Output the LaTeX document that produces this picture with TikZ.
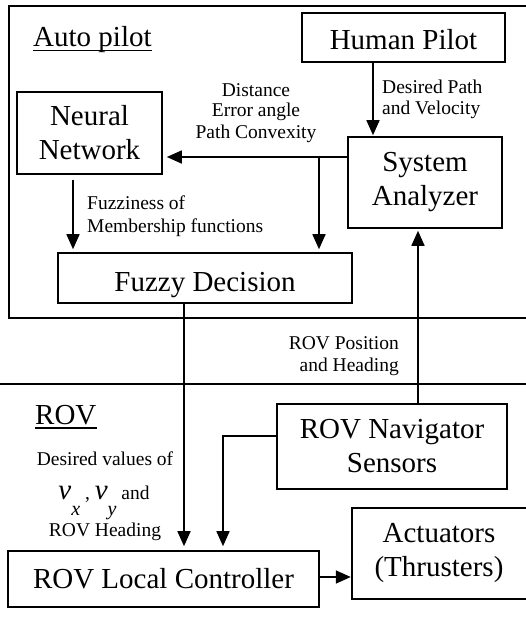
\documentclass[tikz,border=0pt]{standalone}
\usepackage{fontspec}
\setmainfont{Liberation Serif}
\usetikzlibrary{arrows.meta}
\newcommand\bigfnt{\fontsize{29}{34}\selectfont}
\newcommand\lblfnt{\fontsize{19.5}{21}\selectfont}
\newcommand\velsub[1]{{\fontsize{29}{29}\selectfont\itshape v}\raisebox{-16pt}{\fontsize{20}{20}\selectfont\itshape #1}}
\tikzset{
  box/.style={draw, line width=1.6pt, inner sep=0pt, font=\bigfnt, align=center},
  plain/.style={inner sep=0pt, font=\bigfnt, align=center},
  lbl/.style={inner sep=0pt, font=\lblfnt},
  arr/.style={line width=1.6pt, -{Triangle[length=15pt,width=13pt]}, shorten >=3pt},
  frame/.style={line width=1.6pt},
}
\begin{document}
\begin{tikzpicture}[x=1pt,y=-1pt]
\useasboundingbox (0,0) rectangle (526,623);
% frames
\draw[frame] (526,6) -- (9,6) -- (9,318) -- (526,318);
\draw[frame] (0,384) -- (526,384);
% titles
\node[plain, anchor=base west] (ap) at (33,47) {Auto pilot};
\draw[line width=1.5pt] ([yshift=-3.5pt]ap.base west) -- ([yshift=-3.5pt]ap.base east);
\node[plain, anchor=base west] (rov) at (35,424) {ROV};
\draw[line width=1.5pt] ([yshift=-4pt]rov.base west) -- ([yshift=-4pt]rov.base east);
% boxes
\node[box, minimum width=203pt, minimum height=49pt, text height=23.6pt, text depth=0pt] (hp) at (403.5,37.5) {Human Pilot};
\node[box, minimum width=145pt, minimum height=82pt] (nn) at (89.5,133) {Neural\\Network};
\node[box, minimum width=154pt, minimum height=91pt] (sa) at (425,182.5) {System\\Analyzer};
\node[box, minimum width=294pt, minimum height=50pt, text height=26pt, text depth=0pt] (fd) at (205,278) {Fuzzy Decision};
\node[box, minimum width=230pt, minimum height=85pt] (rn) at (392,446.5) {ROV Navigator\\Sensors};
\node[box, minimum width=311pt, minimum height=56pt, text height=18pt, text depth=0pt] (rlc) at (163.5,579) {ROV Local Controller};
\node[plain, minimum width=174pt, minimum height=91pt] (act) at (439,553.5) {Actuators\\(Thrusters)};
\draw[frame] (act.north east) -- (act.north west) -- (act.south west) -- (act.south east);
% connector helper coordinates
\coordinate (c1) at (373,0);
\coordinate (c2) at (0,157);
\coordinate (c3) at (319,157);
\coordinate (c4) at (73,0);
\coordinate (c5) at (184,0);
\coordinate (c6) at (223,436);
\coordinate (c7) at (418,0);
\coordinate (c8) at (0,577);
% connectors
\draw[arr, shorten >=1pt] (hp.south -| c1) -- (sa.north -| c1);
\draw[arr, shorten >=4pt] (sa.west |- c2) -- (nn.east |- c2);
\draw[arr] (c3) -- (c3 |- fd.north);
\draw[arr, shorten <=5pt] (nn.south -| c4) -- (fd.north -| c4);
\draw[arr, shorten >=4pt] (fd.south -| c5) -- (rlc.north -| c5);
\draw[arr, shorten >=4pt] (rn.west |- c6) -| (rlc.north -| c6);
\draw[arr, shorten >=2pt] (rn.north -| c7) -- (sa.south -| c7);
\draw[arr, shorten >=1pt] (rlc.east |- c8) -- (act.west |- c8);
% labels
\node[lbl, anchor=base west] (l1a) at (382,94) {Desired Path};
\node[lbl, anchor=base west] (l1b) at (382,114) {and Velocity};
\node[lbl, anchor=base] (l2a) at (256,96) {Distance};
\node[lbl, anchor=base] (l2b) at (256,117) {Error angle};
\node[lbl, anchor=base] (l2c) at (256,138) {Path Convexity};
\node[lbl, anchor=base west] (l3a) at (87,209) {Fuzziness of};
\node[lbl, anchor=base west] (l3b) at (87,232) {Membership functions};
\node[lbl, anchor=base east] (l4a) at (399,349) {ROV Position};
\node[lbl, anchor=base east] (l4b) at (399,371) {and Heading};
\node[lbl, anchor=base] (l5a) at (105,465) {Desired values of};
\node[lbl, anchor=base] (l5b) at (104,499) {\velsub{x} , \velsub{y} and};
\node[lbl, anchor=base] (l5c) at (105,536) {ROV Heading};
\end{tikzpicture}
\end{document}
